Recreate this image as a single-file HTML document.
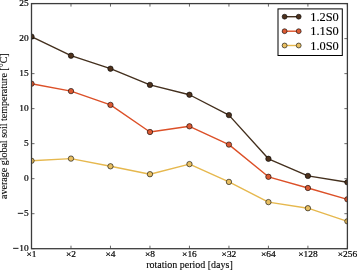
<!DOCTYPE html><html><head><meta charset="utf-8"><style>html,body{margin:0;padding:0;background:#fff;}svg{display:block;will-change:transform;}text{font-family:"Liberation Serif",serif;fill:#000;stroke:#000;stroke-width:0.25px;}</style></head><body>
<svg width="357" height="270" viewBox="0 0 357 270">
<rect width="357" height="270" fill="#fff"/>
<defs><clipPath id="c"><rect x="31.5" y="3.6" width="315.9" height="245.1"/></clipPath></defs>
<g clip-path="url(#c)">
<polyline points="31.50,36.60 70.99,55.70 110.47,68.70 149.96,84.90 189.45,94.75 228.94,115.10 268.42,158.80 307.91,175.90 347.40,182.30" fill="none" stroke="#44301e" stroke-width="1.4" stroke-linejoin="round"/>
<circle cx="31.50" cy="36.60" r="2.7" fill="#4e321d" stroke="#000" stroke-width="0.6"/>
<circle cx="70.99" cy="55.70" r="2.7" fill="#4e321d" stroke="#000" stroke-width="0.6"/>
<circle cx="110.47" cy="68.70" r="2.7" fill="#4e321d" stroke="#000" stroke-width="0.6"/>
<circle cx="149.96" cy="84.90" r="2.7" fill="#4e321d" stroke="#000" stroke-width="0.6"/>
<circle cx="189.45" cy="94.75" r="2.7" fill="#4e321d" stroke="#000" stroke-width="0.6"/>
<circle cx="228.94" cy="115.10" r="2.7" fill="#4e321d" stroke="#000" stroke-width="0.6"/>
<circle cx="268.42" cy="158.80" r="2.7" fill="#4e321d" stroke="#000" stroke-width="0.6"/>
<circle cx="307.91" cy="175.90" r="2.7" fill="#4e321d" stroke="#000" stroke-width="0.6"/>
<circle cx="347.40" cy="182.30" r="2.7" fill="#4e321d" stroke="#000" stroke-width="0.6"/>
<polyline points="31.50,83.70 70.99,91.10 110.47,104.90 149.96,132.00 189.45,126.30 228.94,144.60 268.42,176.80 307.91,188.00 347.40,199.30" fill="none" stroke="#dc5028" stroke-width="1.4" stroke-linejoin="round"/>
<circle cx="31.50" cy="83.70" r="2.7" fill="#db5a33" stroke="#000" stroke-width="0.6"/>
<circle cx="70.99" cy="91.10" r="2.7" fill="#db5a33" stroke="#000" stroke-width="0.6"/>
<circle cx="110.47" cy="104.90" r="2.7" fill="#db5a33" stroke="#000" stroke-width="0.6"/>
<circle cx="149.96" cy="132.00" r="2.7" fill="#db5a33" stroke="#000" stroke-width="0.6"/>
<circle cx="189.45" cy="126.30" r="2.7" fill="#db5a33" stroke="#000" stroke-width="0.6"/>
<circle cx="228.94" cy="144.60" r="2.7" fill="#db5a33" stroke="#000" stroke-width="0.6"/>
<circle cx="268.42" cy="176.80" r="2.7" fill="#db5a33" stroke="#000" stroke-width="0.6"/>
<circle cx="307.91" cy="188.00" r="2.7" fill="#db5a33" stroke="#000" stroke-width="0.6"/>
<circle cx="347.40" cy="199.30" r="2.7" fill="#db5a33" stroke="#000" stroke-width="0.6"/>
<polyline points="31.50,160.80 70.99,158.60 110.47,166.30 149.96,174.20 189.45,164.10 228.94,181.90 268.42,202.10 307.91,208.20 347.40,221.30" fill="none" stroke="#e6b84e" stroke-width="1.4" stroke-linejoin="round"/>
<circle cx="31.50" cy="160.80" r="2.7" fill="#e8bf62" stroke="#000" stroke-width="0.6"/>
<circle cx="70.99" cy="158.60" r="2.7" fill="#e8bf62" stroke="#000" stroke-width="0.6"/>
<circle cx="110.47" cy="166.30" r="2.7" fill="#e8bf62" stroke="#000" stroke-width="0.6"/>
<circle cx="149.96" cy="174.20" r="2.7" fill="#e8bf62" stroke="#000" stroke-width="0.6"/>
<circle cx="189.45" cy="164.10" r="2.7" fill="#e8bf62" stroke="#000" stroke-width="0.6"/>
<circle cx="228.94" cy="181.90" r="2.7" fill="#e8bf62" stroke="#000" stroke-width="0.6"/>
<circle cx="268.42" cy="202.10" r="2.7" fill="#e8bf62" stroke="#000" stroke-width="0.6"/>
<circle cx="307.91" cy="208.20" r="2.7" fill="#e8bf62" stroke="#000" stroke-width="0.6"/>
<circle cx="347.40" cy="221.30" r="2.7" fill="#e8bf62" stroke="#000" stroke-width="0.6"/>
</g>
<path d="M31.5,248.70h3M347.4,248.70h-3M31.5,213.69h3M347.4,213.69h-3M31.5,178.67h3M347.4,178.67h-3M31.5,143.66h3M347.4,143.66h-3M31.5,108.64h3M347.4,108.64h-3M31.5,73.63h3M347.4,73.63h-3M31.5,38.61h3M347.4,38.61h-3M31.5,3.60h3M347.4,3.60h-3M31.50,248.7v-3M31.50,3.6v3M70.99,248.7v-3M70.99,3.6v3M110.47,248.7v-3M110.47,3.6v3M149.96,248.7v-3M149.96,3.6v3M189.45,248.7v-3M189.45,3.6v3M228.94,248.7v-3M228.94,3.6v3M268.42,248.7v-3M268.42,3.6v3M307.91,248.7v-3M307.91,3.6v3M347.40,248.7v-3M347.40,3.6v3" stroke="#000" stroke-width="0.6" fill="none"/>
<rect x="31.5" y="3.6" width="315.9" height="245.1" fill="none" stroke="#3c3c3c" stroke-width="1.3"/>
<text transform="translate(28.6,251.10) scale(1.12,1)" font-size="8.4" text-anchor="end" style="stroke-width:0.18px">10</text>
<rect x="13.10" y="247.85" width="5.4" height="0.9" fill="#000"/>
<text transform="translate(28.6,216.09) scale(1.12,1)" font-size="8.4" text-anchor="end" style="stroke-width:0.18px">5</text>
<rect x="17.80" y="212.84" width="5.4" height="0.9" fill="#000"/>
<text transform="translate(28.6,181.07) scale(1.12,1)" font-size="8.4" text-anchor="end" style="stroke-width:0.18px">0</text>
<text transform="translate(28.6,146.06) scale(1.12,1)" font-size="8.4" text-anchor="end" style="stroke-width:0.18px">5</text>
<text transform="translate(28.6,111.04) scale(1.12,1)" font-size="8.4" text-anchor="end" style="stroke-width:0.18px">10</text>
<text transform="translate(28.6,76.03) scale(1.12,1)" font-size="8.4" text-anchor="end" style="stroke-width:0.18px">15</text>
<text transform="translate(28.6,41.01) scale(1.12,1)" font-size="8.4" text-anchor="end" style="stroke-width:0.18px">20</text>
<text transform="translate(28.6,6.00) scale(1.12,1)" font-size="8.4" text-anchor="end" style="stroke-width:0.18px">25</text>
<text transform="translate(31.50,257.3) scale(1.12,1)" font-size="8.4" text-anchor="middle" style="stroke-width:0.18px">×1</text>
<text transform="translate(70.99,257.3) scale(1.12,1)" font-size="8.4" text-anchor="middle" style="stroke-width:0.18px">×2</text>
<text transform="translate(110.47,257.3) scale(1.12,1)" font-size="8.4" text-anchor="middle" style="stroke-width:0.18px">×4</text>
<text transform="translate(149.96,257.3) scale(1.12,1)" font-size="8.4" text-anchor="middle" style="stroke-width:0.18px">×8</text>
<text transform="translate(189.45,257.3) scale(1.12,1)" font-size="8.4" text-anchor="middle" style="stroke-width:0.18px">×16</text>
<text transform="translate(228.94,257.3) scale(1.12,1)" font-size="8.4" text-anchor="middle" style="stroke-width:0.18px">×32</text>
<text transform="translate(268.42,257.3) scale(1.12,1)" font-size="8.4" text-anchor="middle" style="stroke-width:0.18px">×64</text>
<text transform="translate(307.91,257.3) scale(1.12,1)" font-size="8.4" text-anchor="middle" style="stroke-width:0.18px">×128</text>
<text transform="translate(347.40,257.3) scale(1.12,1)" font-size="8.4" text-anchor="middle" style="stroke-width:0.18px">×256</text>
<text x="189.45" y="268.3" font-size="10" text-anchor="middle" style="stroke-width:0.1px">rotation period [days]</text>
<text transform="translate(7.1,126.15) rotate(-90)" font-size="10" text-anchor="middle" style="stroke-width:0.1px">average global soil temperature [°C]</text>
<rect x="278.0" y="8.9" width="64.30000000000001" height="46.6" fill="#fff" stroke="#000" stroke-width="1"/>
<line x1="284.5" y1="16.7" x2="298.6" y2="16.7" stroke="#44301e" stroke-width="1.4"/>
<circle cx="284.6" cy="16.7" r="2.45" fill="#4e321d" stroke="#000" stroke-width="0.6"/>
<circle cx="298.7" cy="16.7" r="2.45" fill="#4e321d" stroke="#000" stroke-width="0.6"/>
<text transform="translate(310.2,20.80) scale(1.035,1)" font-size="12" style="stroke-width:0.12px">1.2S0</text>
<line x1="284.5" y1="31.2" x2="298.6" y2="31.2" stroke="#dc5028" stroke-width="1.4"/>
<circle cx="284.6" cy="31.2" r="2.45" fill="#db5a33" stroke="#000" stroke-width="0.6"/>
<circle cx="298.7" cy="31.2" r="2.45" fill="#db5a33" stroke="#000" stroke-width="0.6"/>
<text transform="translate(310.2,35.30) scale(1.035,1)" font-size="12" style="stroke-width:0.12px">1.1S0</text>
<line x1="284.5" y1="45.5" x2="298.6" y2="45.5" stroke="#e6b84e" stroke-width="1.4"/>
<circle cx="284.6" cy="45.5" r="2.45" fill="#e8bf62" stroke="#000" stroke-width="0.6"/>
<circle cx="298.7" cy="45.5" r="2.45" fill="#e8bf62" stroke="#000" stroke-width="0.6"/>
<text transform="translate(310.2,49.60) scale(1.035,1)" font-size="12" style="stroke-width:0.12px">1.0S0</text>
</svg></body></html>
